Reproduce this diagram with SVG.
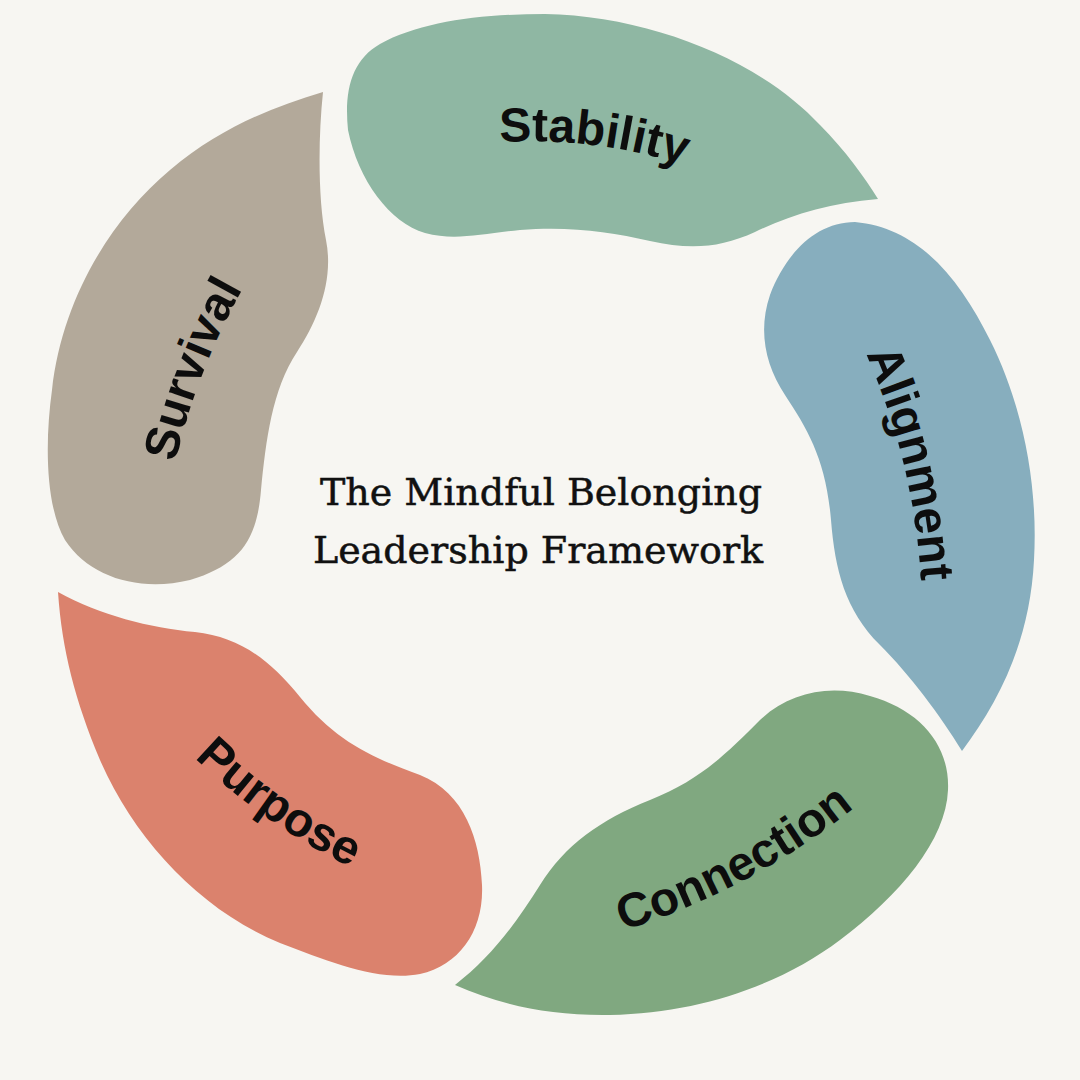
<svg xmlns="http://www.w3.org/2000/svg" xmlns:xlink="http://www.w3.org/1999/xlink" width="1080" height="1080" viewBox="0 0 1080 1080">
  <style>
    .lbl { font-family: "Liberation Sans", Arial, sans-serif; font-weight: 700; font-size: 48px; fill: #0d0d0d; }
    .title { font-family: "DejaVu Serif", "Liberation Serif", serif; font-size: 38px; fill: #111111; stroke: #111111; stroke-width: 0.5px; }
  </style>
  <defs>
    <path id="arc-stability" d="M 372.6,165.8 A 500,500 0 0 1 792.1,217.3"/>
    <path id="arc-alignment" d="M 795.6,239.6 A 650,650 0 0 1 910,713"/>
    <path id="arc-survival" d="M 155.9,598.7 A 650,650 0 0 1 316.7,184.1"/>
    <path id="arc-connection" d="M 488.9,955.1 A 700,700 0 0 0 951.9,708.9"/>
    <path id="arc-purpose" d="M 121,671.3 A 600,600 0 0 0 457.2,906.8"/>
  </defs>
  <rect width="1080" height="1080" fill="#f7f6f2"/>

  <g id="stability">
    <path fill="#8fb7a3" d="M 348,130 C 344,90 352,60 380,44 C 420,22 480,14 545,14 C 650,16 760,60 820,125 C 845,150 865,178 878,199 C 830,203 790,215 755,232 C 720,248 690,250 650,241 C 610,232 570,226 520,230 C 480,234 455,241 425,233 C 390,223 358,180 348,130 Z"/>
    <text class="lbl" text-anchor="middle" transform="translate(5,0)"><textPath xlink:href="#arc-stability" href="#arc-stability" startOffset="50%">Stability</textPath></text>
  </g>

  <g id="alignment">
    <path fill="#87aebe" d="M 855,222 C 920,228 960,280 990,340 C 1025,410 1038,490 1034,560 C 1030,640 1000,700 962,751 C 940,715 910,675 880,645 C 845,610 835,570 831,520 C 826,460 808,430 785,395 C 765,365 758,330 770,295 C 785,255 815,222 855,222 Z"/>
    <text class="lbl" text-anchor="middle" transform="translate(5,0)"><textPath xlink:href="#arc-alignment" href="#arc-alignment" startOffset="50%">Alignment</textPath></text>
  </g>

  <g id="connection">
    <path fill="#80a880" d="M 455,985 C 490,958 515,925 540,885 C 565,845 600,820 650,800 C 700,780 725,755 760,720 C 790,692 830,684 870,696 C 920,710 950,745 948,790 C 946,840 900,895 840,940 C 780,985 700,1013 610,1015 C 550,1016 500,1005 455,985 Z"/>
    <text class="lbl" text-anchor="middle" transform="translate(0,3)"><textPath xlink:href="#arc-connection" href="#arc-connection" startOffset="50%">Connection</textPath></text>
  </g>

  <g id="purpose">
    <path fill="#db826d" d="M 58,592 C 100,615 150,628 195,632 C 240,637 270,660 300,697 C 335,740 370,757 420,775 C 465,793 480,840 482,885 C 484,930 460,965 420,974 C 380,982 330,962 280,943 C 200,910 135,840 100,760 C 75,700 62,650 58,592 Z"/>
    <text class="lbl" text-anchor="middle"><textPath xlink:href="#arc-purpose" href="#arc-purpose" startOffset="50%">Purpose</textPath></text>
  </g>

  <g id="survival">
    <path fill="#b3a99a" d="M 323,92 C 318,140 318,200 326,240 C 334,280 318,320 297,352 C 272,390 266,440 261,490 C 257,540 240,565 190,580 C 140,592 90,578 65,540 C 45,505 45,440 52,390 C 62,300 110,220 170,170 C 220,128 270,108 323,92 Z"/>
    <text class="lbl" text-anchor="middle" transform="translate(3,-4)"><textPath xlink:href="#arc-survival" href="#arc-survival" startOffset="50%">Survival</textPath></text>
  </g>

  <g id="title">
    <text class="title" text-anchor="middle" x="541" y="505">The Mindful Belonging</text>
    <text class="title" text-anchor="middle" x="538" y="563">Leadership Framework</text>
  </g>

  <g id="connectors"/>
</svg>
